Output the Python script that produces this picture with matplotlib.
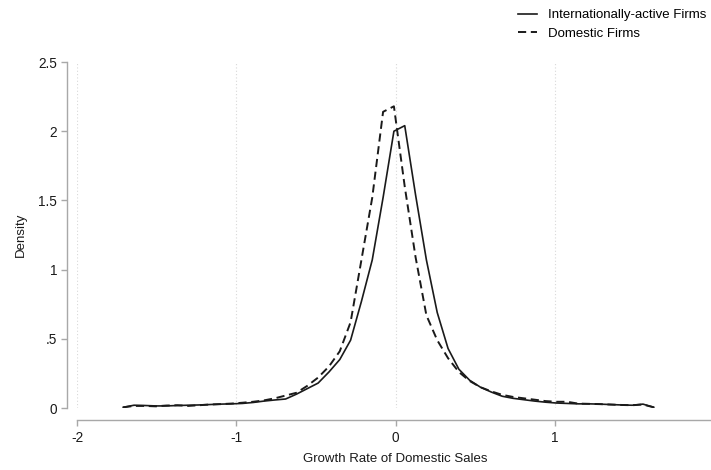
import numpy as np
import matplotlib.pyplot as plt
from matplotlib.lines import Line2D

plt.rcParams['font.family'] = ['Liberation Sans', 'DejaVu Sans']
plt.rcParams['axes.unicode_minus'] = False

# kernel density evaluation points (growth rate of domestic sales)
grid = [-1.710, -1.642, -1.574, -1.506, -1.438, -1.370, -1.302, -1.234, -1.166, -1.098,
        -1.030, -0.962, -0.894, -0.826, -0.758, -0.690, -0.622, -0.554, -0.486, -0.418,
        -0.350, -0.282, -0.214, -0.146, -0.078, -0.010, 0.058, 0.126, 0.194, 0.262,
        0.330, 0.398, 0.466, 0.534, 0.602, 0.670, 0.738, 0.806, 0.874, 0.942,
        1.010, 1.078, 1.146, 1.214, 1.282, 1.350, 1.418, 1.486, 1.554, 1.622]

dens_intl = [0.005, 0.020, 0.018, 0.015, 0.015, 0.018, 0.020, 0.022, 0.025, 0.028,
             0.030, 0.033, 0.040, 0.050, 0.058, 0.065, 0.100, 0.140, 0.180, 0.260,
             0.350, 0.490, 0.770, 1.070, 1.520, 2.000, 2.040, 1.540, 1.070, 0.690,
             0.430, 0.280, 0.200, 0.150, 0.115, 0.085, 0.070, 0.060, 0.050, 0.042,
             0.036, 0.033, 0.030, 0.030, 0.028, 0.025, 0.022, 0.020, 0.028, 0.005]

dens_dom = [0.005, 0.015, 0.015, 0.012, 0.018, 0.020, 0.015, 0.020, 0.025, 0.028,
            0.032, 0.038, 0.045, 0.055, 0.070, 0.090, 0.110, 0.160, 0.220, 0.300,
            0.410, 0.620, 1.070, 1.520, 2.140, 2.180, 1.600, 1.090, 0.670, 0.490,
            0.360, 0.260, 0.195, 0.150, 0.120, 0.095, 0.080, 0.070, 0.060, 0.050,
            0.045, 0.045, 0.032, 0.030, 0.028, 0.025, 0.022, 0.020, 0.025, 0.005]

xticks = [-2, -1, 0, 1, 2]
yticks = [0, 0.5, 1, 1.5, 2, 2.5]
ytick_labels = ['0', '.5', '1', '1.5', '2', '2.5']

fig = plt.figure(figsize=(7.11, 4.70), dpi=100)
ax = fig.add_axes([77 / 711, 62 / 470, 637 / 711, 346 / 470])

dash = (4.2, 2.4)
ax.plot(grid, dens_intl, color='#1a1a1a', lw=1.2, label='Internationally-active Firms')
ax.plot(grid, dens_dom, color='#1a1a1a', lw=1.4, dashes=dash,
        label='Domestic Firms')

ax.set_xlim(-2, 2)
ax.set_ylim(0, 2.5)
ax.set_xticks(xticks)
ax.set_yticks(yticks)
ax.set_yticklabels(ytick_labels)

# dotted vertical grid at the x ticks
for xv in xticks:
    ax.axvline(xv, color='#d8d8d8', lw=0.8, ls=(0, (1, 2)), zorder=0)

for side in ['top', 'right']:
    ax.spines[side].set_visible(False)
ax.spines['left'].set_position(('outward', 7.2))
ax.spines['bottom'].set_position(('outward', 8.6))
ax.spines['left'].set_bounds(0, 2.5)
ax.spines['bottom'].set_bounds(-2, 2)
for side in ['left', 'bottom']:
    ax.spines[side].set_color('#a8a8a8')
    ax.spines[side].set_linewidth(1.0)

ax.tick_params(axis='both', colors='#a8a8a8', length=4, width=1.0,
               labelcolor='#1a1a1a', labelsize=9.8)
ax.tick_params(axis='x', pad=4)
ax.tick_params(axis='y', pad=3)

ax.set_xlabel('Growth Rate of Domestic Sales', fontsize=9.5, color='#1a1a1a', labelpad=6)
ax.set_ylabel('Density', fontsize=9.5, color='#1a1a1a', labelpad=8)

handles = [Line2D([], [], color='#1a1a1a', lw=1.2),
           Line2D([], [], color='#1a1a1a', lw=1.4, dashes=dash)]
fig.legend(handles, ['Internationally-active Firms', 'Domestic Firms'],
           loc='upper left', bbox_to_anchor=(509 / 711, 1.0), frameon=False,
           fontsize=9.5, handlelength=1.45, handletextpad=0.8, labelspacing=0.45,
           borderaxespad=0.3)

fig.savefig('out.png', dpi=100)
